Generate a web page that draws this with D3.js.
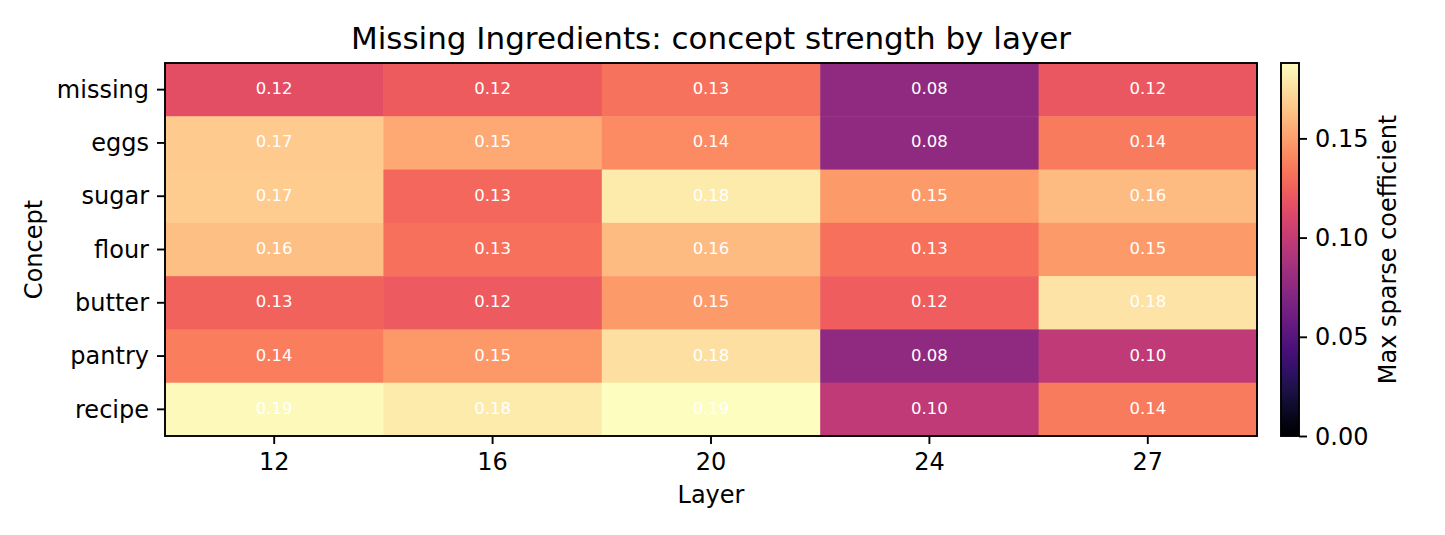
<!DOCTYPE html>
<html>
<head>
<meta charset="utf-8">
<script src="https://cdn.jsdelivr.net/npm/d3@7"></script>
<style>
  body { margin: 0; background: #fff; }
  text { font-family: "DejaVu Sans", sans-serif; }
</style>
</head>
<body>
<div id="chart"></div>
<script>
// concepts (rows) and layers (columns)
const concepts = ["missing", "eggs", "sugar", "flour", "butter", "pantry", "recipe"];
const layers = ["12", "16", "20", "24", "27"];

// max sparse coefficient per concept, one value per layer
const missingVals = [0.116, 0.123, 0.1325, 0.077, 0.121];
const eggsVals    = [0.167, 0.154, 0.142, 0.077, 0.136];
const sugarVals   = [0.168, 0.128, 0.180, 0.148, 0.161];
const flourVals   = [0.163, 0.1316, 0.161, 0.132, 0.148];
const butterVals  = [0.126, 0.122, 0.148, 0.124, 0.177];
const pantryVals  = [0.137, 0.147, 0.176, 0.077, 0.098];
const recipeVals  = [0.186, 0.180, 0.188, 0.098, 0.136];

const colorbarTicks = [0, 0.05, 0.10, 0.15];

const rowsVals = [missingVals, eggsVals, sugarVals, flourVals, butterVals, pantryVals, recipeVals];

const cells = [];
concepts.forEach(function(c, i) {
    layers.forEach(function(l, j) {
        cells.push({concept: c, layer: l, value: rowsVals[i][j]});
    });
});

const W = 1445, H = 535;
const margin = {top: 63, left: 165, right: 1257, bottom: 436};
const cb = {left: 1281, right: 1299};
const fs = "24px";

const vmax = d3.max(cells, function(d) { return d.value; });

const svg = d3.select("#chart")
    .append("svg")
    .attr("width", W)
    .attr("height", H);

const x = d3.scaleBand()
    .domain(layers)
    .range([margin.left, margin.right])
    .padding(0);

const y = d3.scaleBand()
    .domain(concepts)
    .range([margin.top, margin.bottom])
    .padding(0);

const color = d3.scaleSequential(d3.interpolateMagma).domain([0, vmax]);

// heatmap cells
svg.append("g")
    .selectAll("rect")
    .data(cells)
    .join("rect")
    .attr("x", function(d) { return x(d.layer); })
    .attr("y", function(d) { return y(d.concept); })
    .attr("width", x.bandwidth() + 0.5)
    .attr("height", y.bandwidth() + 0.5)
    .attr("fill", function(d) { return color(d.value); });

// cell annotations
svg.append("g")
    .selectAll("text")
    .data(cells)
    .join("text")
    .attr("x", function(d) { return x(d.layer) + x.bandwidth() / 2; })
    .attr("y", function(d) { return y(d.concept) + y.bandwidth() / 2 + 4.5; })
    .attr("text-anchor", "middle")
    .attr("font-size", "16.5px")
    .attr("fill", "#ffffff")
    .text(function(d) { return d3.format(".2f")(d.value); });

// axes
const xAxis = svg.append("g")
    .attr("transform", `translate(0, ${margin.bottom})`)
    .call(d3.axisBottom(x).tickSize(8).tickPadding(8));

const yAxis = svg.append("g")
    .attr("transform", `translate(${margin.left}, 0)`)
    .call(d3.axisLeft(y).tickSize(8).tickPadding(8));

[xAxis, yAxis].forEach(function(a) {
    a.select(".domain").remove();
    a.selectAll(".tick line").attr("stroke", "#000").attr("stroke-width", 1.9);
    a.selectAll(".tick text")
        .attr("font-family", "DejaVu Sans")
        .attr("font-size", fs)
        .attr("fill", "#000");
});
xAxis.selectAll(".tick text").attr("dy", "0.75em");
yAxis.selectAll(".tick text").attr("dy", "0.34em");

// frame
svg.append("rect")
    .attr("x", margin.left)
    .attr("y", margin.top)
    .attr("width", margin.right - margin.left)
    .attr("height", margin.bottom - margin.top)
    .attr("fill", "none")
    .attr("stroke", "#000")
    .attr("stroke-width", 1.9);

// title and axis labels
svg.append("text")
    .attr("x", (margin.left + margin.right) / 2)
    .attr("y", 49)
    .attr("text-anchor", "middle")
    .attr("font-size", "31px")
    .text("Missing Ingredients: concept strength by layer");

svg.append("text")
    .attr("x", (margin.left + margin.right) / 2)
    .attr("y", 503)
    .attr("text-anchor", "middle")
    .attr("font-size", fs)
    .text("Layer");

svg.append("text")
    .attr("transform", `translate(42, ${(margin.top + margin.bottom) / 2}) rotate(-90)`)
    .attr("text-anchor", "middle")
    .attr("font-size", fs)
    .text("Concept");

// colorbar
const cy = d3.scaleLinear().domain([0, vmax]).range([margin.bottom, margin.top]);

const grad = svg.append("defs")
    .append("linearGradient")
    .attr("id", "cbgrad")
    .attr("x1", 0).attr("y1", 1).attr("x2", 0).attr("y2", 0);

grad.selectAll("stop")
    .data(d3.range(0, 1.0001, 1 / 64))
    .join("stop")
    .attr("offset", function(t) { return t; })
    .attr("stop-color", function(t) { return d3.interpolateMagma(t); });

svg.append("rect")
    .attr("x", cb.left)
    .attr("y", cy(vmax))
    .attr("width", cb.right - cb.left)
    .attr("height", cy(0) - cy(vmax))
    .attr("fill", "url(#cbgrad)")
    .attr("stroke", "#000")
    .attr("stroke-width", 1.9);

const cAxis = svg.append("g")
    .attr("transform", `translate(${cb.right}, 0)`)
    .call(d3.axisRight(cy).tickValues(colorbarTicks).tickFormat(d3.format(".2f")).tickSize(8).tickPadding(8));

cAxis.select(".domain").remove();
cAxis.selectAll(".tick line").attr("stroke", "#000").attr("stroke-width", 1.9);
cAxis.selectAll(".tick text")
    .attr("font-family", "DejaVu Sans")
    .attr("font-size", fs)
    .attr("fill", "#000")
    .attr("dy", "0.34em");

svg.append("text")
    .attr("transform", `translate(1396, ${(margin.top + margin.bottom) / 2}) rotate(-90)`)
    .attr("text-anchor", "middle")
    .attr("font-size", fs)
    .text("Max sparse coefficient");
</script>
</body>
</html>
